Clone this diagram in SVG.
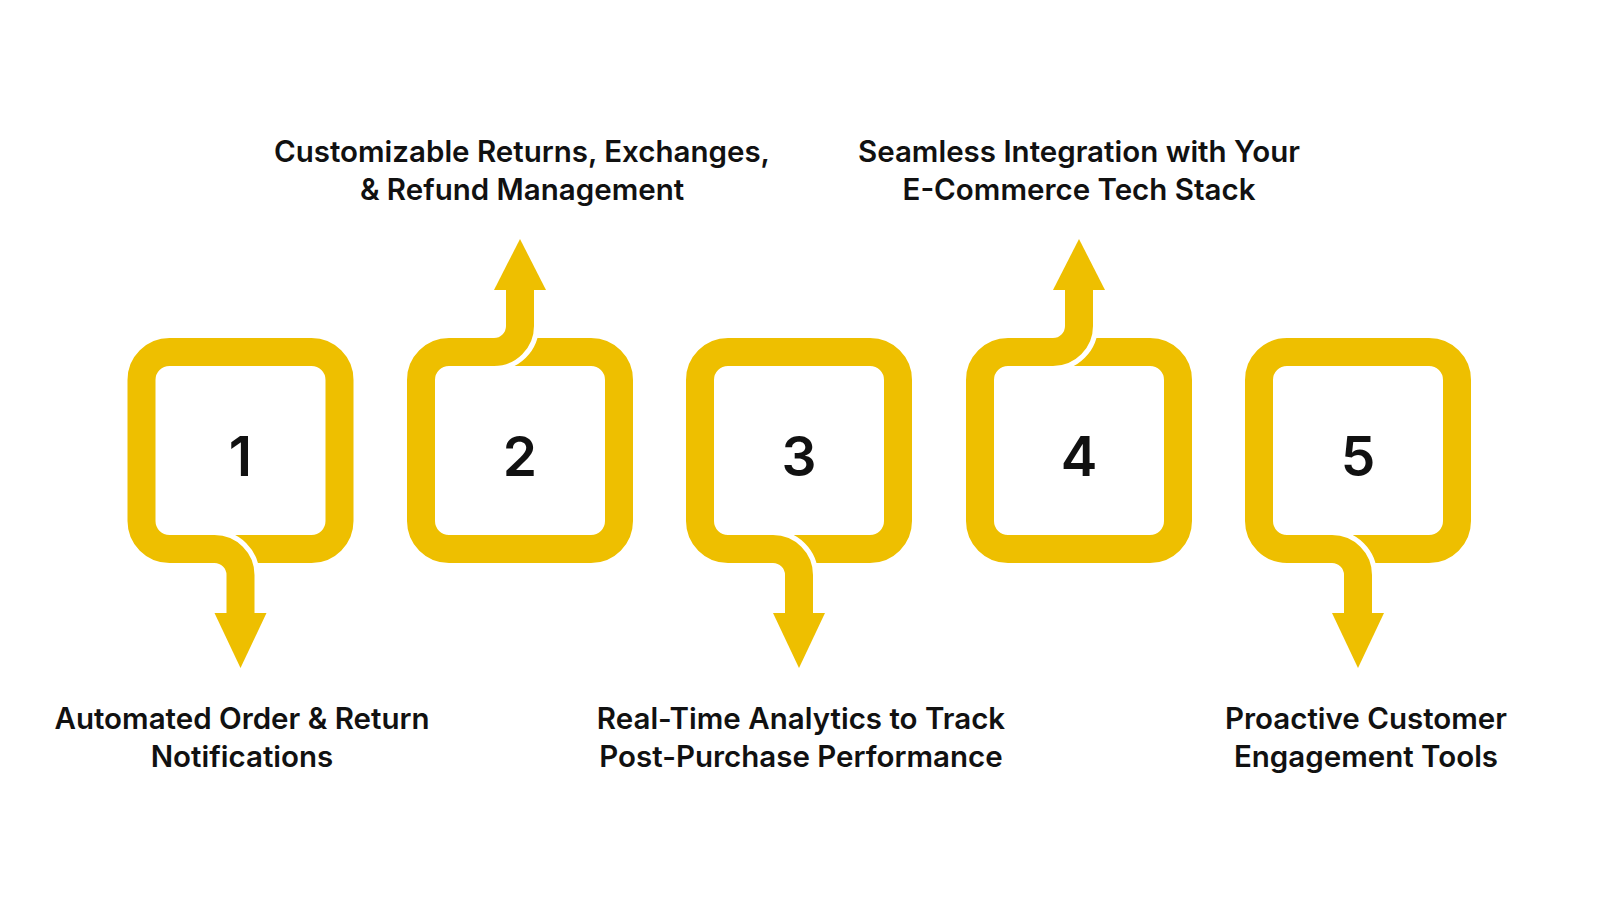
<svg xmlns="http://www.w3.org/2000/svg" width="1600" height="900" viewBox="0 0 1600 900">
<style>
.box{fill:none;stroke:#EEBF00;stroke-width:28}
.halo{fill:none;stroke:#fff;stroke-width:38}
.stem{fill:none;stroke:#EEBF00;stroke-width:28}
.head{fill:#EEBF00}
.num{font-family:Inter,"Liberation Sans",sans-serif;font-weight:600;font-size:55px;fill:#111;text-anchor:middle}
.lbl{font-family:Inter,"Liberation Sans",sans-serif;font-weight:600;font-size:29.5px;fill:#111;text-anchor:middle}
</style>
<rect width="1600" height="900" fill="#fff"/>
<g id="node1">
<rect class="box" x="141.5" y="352" width="198" height="197" rx="28"/>
<path class="halo" d="M190 549 H214.5 A26 26 0 0 1 240.5 575 V600"/>
<path class="stem" d="M190 549 H214.5 A26 26 0 0 1 240.5 575 V615"/>
<polygon class="head" points="214.5,613 266.5,613 240.5,668"/>
<text class="num" x="240.5" y="476">1</text>
<text class="lbl" x="242" y="729">Automated Order &amp; Return</text>
<text class="lbl" x="242" y="767">Notifications</text>
</g>
<g id="node2">
<rect class="box" x="421" y="352" width="198" height="197" rx="28"/>
<path class="halo" d="M466 352 H494 A26 26 0 0 0 520 326 V300"/>
<path class="stem" d="M466 352 H494 A26 26 0 0 0 520 326 V288"/>
<polygon class="head" points="494,290 546,290 520,239"/>
<text class="num" x="520" y="476">2</text>
<text class="lbl" x="522" y="162">Customizable Returns, Exchanges,</text>
<text class="lbl" x="522" y="200">&amp; Refund Management</text>
</g>
<g id="node3">
<rect class="box" x="700" y="352" width="198" height="197" rx="28"/>
<path class="halo" d="M748 549 H773 A26 26 0 0 1 799 575 V600"/>
<path class="stem" d="M748 549 H773 A26 26 0 0 1 799 575 V615"/>
<polygon class="head" points="773,613 825,613 799,668"/>
<text class="num" x="799" y="476">3</text>
<text class="lbl" x="801" y="729">Real-Time Analytics to Track</text>
<text class="lbl" x="801" y="767">Post-Purchase Performance</text>
</g>
<g id="node4">
<rect class="box" x="980" y="352" width="198" height="197" rx="28"/>
<path class="halo" d="M1025 352 H1053 A26 26 0 0 0 1079 326 V300"/>
<path class="stem" d="M1025 352 H1053 A26 26 0 0 0 1079 326 V288"/>
<polygon class="head" points="1053,290 1105,290 1079,239"/>
<text class="num" x="1079" y="476">4</text>
<text class="lbl" x="1079" y="162">Seamless Integration with Your</text>
<text class="lbl" x="1079" y="200">E-Commerce Tech Stack</text>
</g>
<g id="node5">
<rect class="box" x="1259" y="352" width="198" height="197" rx="28"/>
<path class="halo" d="M1307 549 H1332 A26 26 0 0 1 1358 575 V600"/>
<path class="stem" d="M1307 549 H1332 A26 26 0 0 1 1358 575 V615"/>
<polygon class="head" points="1332,613 1384,613 1358,668"/>
<text class="num" x="1358" y="476">5</text>
<text class="lbl" x="1366" y="729">Proactive Customer</text>
<text class="lbl" x="1366" y="767">Engagement Tools</text>
</g>
<g id="connectors"></g>
</svg>
